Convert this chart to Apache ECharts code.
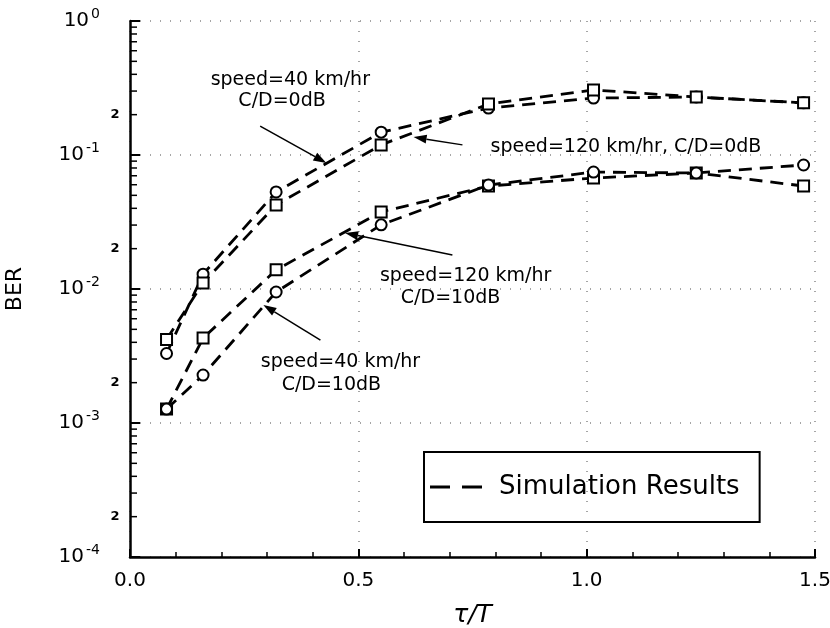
<!DOCTYPE html>
<html>
<head>
    <meta charset="utf-8">
    <title>BER vs tau/T</title>
    <script src="https://cdn.jsdelivr.net/npm/echarts@6/dist/echarts.min.js"></script>
</head>
<body style="margin:0;background:#fff;">
    <div id="main" style="width: 830px;height:628px;"></div>
    <script type="text/javascript">
        // tau/T sample points
        var tauT = [0.08, 0.16, 0.32, 0.55, 0.785, 1.015, 1.24, 1.475];
        // BER curves
        var ber40_0dB   = [0.0033, 0.0129, 0.053, 0.148, 0.224, 0.266, 0.271, 0.245];
        var ber120_0dB  = [0.0042, 0.0111, 0.0424, 0.119, 0.240, 0.306, 0.271, 0.245];
        var ber120_10dB = [0.00127, 0.0043, 0.0139, 0.0376, 0.0587, 0.0673, 0.0734, 0.0587];
        var ber40_10dB  = [0.00127, 0.00228, 0.0095, 0.0301, 0.0597, 0.0746, 0.0734, 0.0842];

        var xTicks = ['0.0', '0.5', '1.0', '1.5'];
        var decades = [-4, -3, -2, -1];
        var minorMults = [2, 3, 4, 5, 6, 7, 8, 9];

        // annotations: text lines + arrow (tail -> head), all in data coords
        var notes = [
            { lines: [['speed=40 km/hr', 0.351, 0.363], ['C/D=0dB', 0.333, 0.253]],
              tail: [0.285, 0.1645], head: [0.430, 0.0871] },
            { lines: [['speed=120 km/hr, C/D=0dB', 1.086, 0.1148]],
              tail: [0.728, 0.119], head: [0.621, 0.136] },
            { lines: [['speed=120 km/hr', 0.735, 0.0125], ['C/D=10dB', 0.702, 0.00857]],
              tail: [0.706, 0.01794], head: [0.471, 0.0262] },
            { lines: [['speed=40 km/hr', 0.461, 0.00285], ['C/D=10dB', 0.441, 0.00192]],
              tail: [0.417, 0.00416], head: [0.292, 0.0076] }
        ];

        var FONT = 'DejaVu Sans';
        var minorData = [];
        decades.forEach(function (d) {
            minorMults.forEach(function (m) { minorData.push([0, m * Math.pow(10, d), m]); });
        });

        function curve(vals, sym) {
            return {
                name: 'Simulation Results',
                type: 'line',
                data: tauT.map(function (t, i) { return [t, vals[i]]; }),
                symbol: sym,
                symbolSize: 11,
                showAllSymbol: true,
                lineStyle: { color: '#000', width: 2.8, type: [13, 8] },
                itemStyle: { color: '#000', borderWidth: 2 },
                z: 3
            };
        }

        var myChart = echarts.init(document.getElementById('main'));
        var option = {
            animation: false,
            textStyle: { fontFamily: FONT },
            grid: { left: 130, right: 15, top: 21, bottom: 71, outerBoundsMode: 'none', containLabel: false },
            legend: {
                left: 424, top: 452,
                padding: [22, 20, 22, 6],
                borderColor: '#000', borderWidth: 2,
                itemWidth: 52, itemHeight: 3,
                selectedMode: false,
                data: [{
                    name: 'Simulation Results',
                    icon: 'path://M0,0 H20 V3 H0 Z M32,0 H52 V3 H32 Z',
                    itemStyle: { color: '#000' }
                }],
                textStyle: { fontFamily: FONT, fontSize: 26, color: '#000', padding: [0, 0, 0, 12] }
            },
            xAxis: {
                type: 'value', min: 0, max: 1.5, interval: 0.5,
                name: 'τ/T', nameLocation: 'middle', nameGap: 46,
                nameTextStyle: { fontSize: 25, fontStyle: 'italic', color: '#000', fontFamily: FONT },
                axisLine: { lineStyle: { color: '#000', width: 2.5 } },
                axisTick: { inside: true, length: 8, lineStyle: { color: '#000', width: 2 } },
                minorTick: { show: true, splitNumber: 5, length: 5, lineStyle: { color: '#000', width: 1.5 } },
                axisLabel: {
                    fontSize: 20, color: '#000', margin: 14,
                    formatter: function (v) { return xTicks[Math.round(v / 0.5)]; }
                },
                splitLine: { show: true, lineStyle: { color: '#888', type: [1, 9], width: 1.5 } }
            },
            yAxis: {
                type: 'log', logBase: 10, min: 1e-4, max: 1,
                name: 'BER', nameLocation: 'middle', nameGap: 104, nameRotate: 90,
                nameTextStyle: { fontSize: 22, color: '#000', fontFamily: FONT },
                axisLine: { show: true, lineStyle: { color: '#000', width: 2.5 } },
                axisTick: { inside: true, length: 10, lineStyle: { color: '#000', width: 2 } },
                axisLabel: {
                    margin: 30, color: '#000',
                    formatter: function (v) {
                        var e = Math.round(Math.log10(v));
                        return '{b|10}{s|' + (e === 0 ? '0' : '-' + (-e)) + '}';
                    },
                    rich: {
                        b: { fontSize: 20, color: '#000', fontFamily: FONT },
                        s: { fontSize: 14, color: '#000', fontFamily: FONT, padding: [0, 0, 14, 2] }
                    }
                },
                splitLine: { show: true, lineStyle: { color: '#888', type: [1, 9], width: 1.5 } }
            },
            series: [
                curve(ber40_0dB, 'emptyCircle'),
                curve(ber120_0dB, 'emptyRect'),
                curve(ber120_10dB, 'emptyRect'),
                curve(ber40_10dB, 'emptyCircle'),
                {
                    // log-axis minor ticks and the "2" labels
                    name: 'minor',
                    type: 'custom',
                    clip: false,
                    silent: true,
                    data: minorData,
                    renderItem: function (params, api) {
                        var p = api.coord([0, api.value(1)]);
                        var kids = [{
                            type: 'line',
                            shape: { x1: p[0], y1: p[1], x2: p[0] + 7, y2: p[1] },
                            style: { stroke: '#000', lineWidth: 1.5 }
                        }];
                        if (api.value(2) === 2) {
                            kids.push({
                                type: 'text',
                                style: {
                                    text: '2', x: p[0] - 15, y: p[1],
                                    align: 'center', verticalAlign: 'middle',
                                    font: 'bold 13px ' + FONT, fill: '#000'
                                }
                            });
                        }
                        return { type: 'group', children: kids };
                    }
                }
            ]
        };
        myChart.setOption(option);

        // annotations placed through the grid's own coordinate conversion
        var gr = [];
        notes.forEach(function (n) {
            n.lines.forEach(function (l) {
                var p = myChart.convertToPixel({ gridIndex: 0 }, [l[1], l[2]]);
                gr.push({
                    type: 'text', x: p[0], y: p[1], z: 10,
                    style: { text: l[0], align: 'center', verticalAlign: 'middle',
                             font: '19px ' + FONT, fill: '#000' }
                });
            });
            var a = myChart.convertToPixel({ gridIndex: 0 }, n.tail);
            var b = myChart.convertToPixel({ gridIndex: 0 }, n.head);
            var dx = b[0] - a[0], dy = b[1] - a[1];
            var len = Math.sqrt(dx * dx + dy * dy);
            var ux = dx / len, uy = dy / len;
            var hl = 13, hw = 4.5;
            var bx = b[0] - ux * hl, by = b[1] - uy * hl;
            gr.push({
                type: 'line', z: 10,
                shape: { x1: a[0], y1: a[1], x2: bx, y2: by },
                style: { stroke: '#000', lineWidth: 1.5 }
            });
            gr.push({
                type: 'polygon', z: 10,
                shape: { points: [[b[0], b[1]], [bx - uy * hw, by + ux * hw], [bx + uy * hw, by - ux * hw]] },
                style: { fill: '#000' }
            });
        });
        myChart.setOption({ graphic: gr });
    </script>
</body>
</html>
